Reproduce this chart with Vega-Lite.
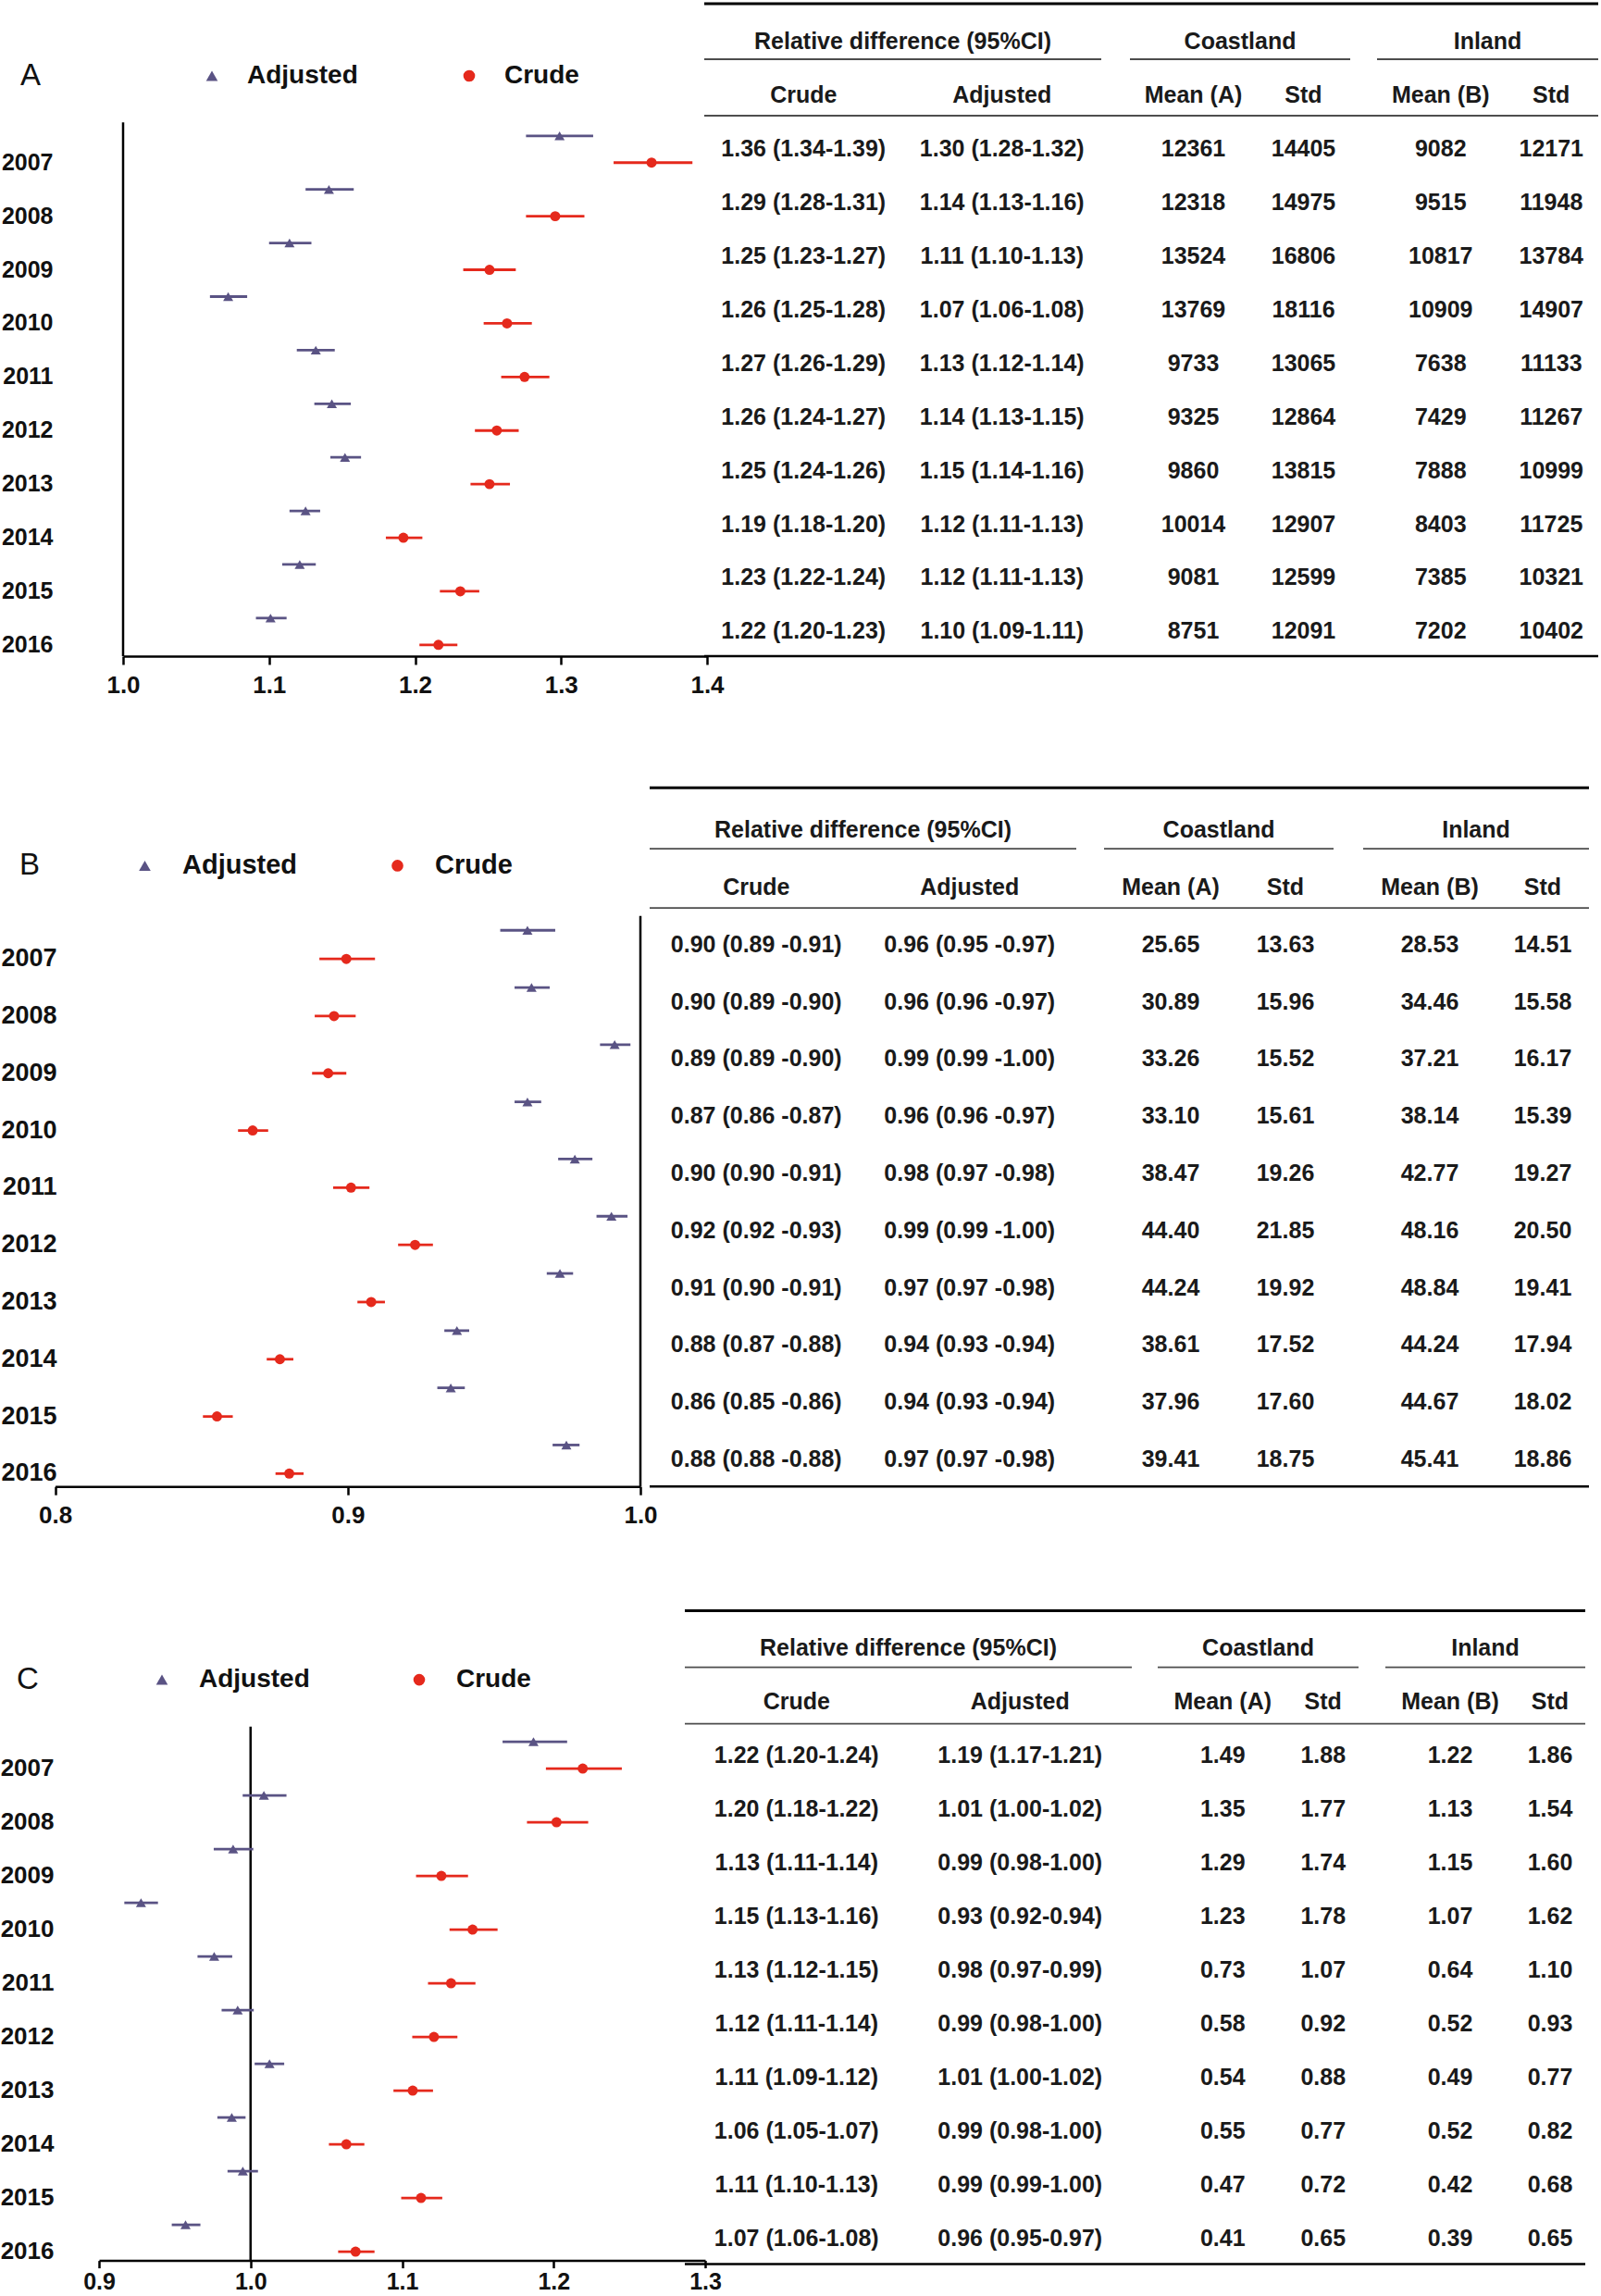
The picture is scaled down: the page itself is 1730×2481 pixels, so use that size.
{
"$schema": "https://vega.github.io/schema/vega-lite/v6.json",
"background": "white",
"padding": {"left": 0, "top": 1.5, "right": 0, "bottom": 0},
"config": {"view": {"stroke": null}, "font": "Liberation Sans", "text": {"font": "Liberation Sans"}, "axis": {"labelFont": "Liberation Sans"}, "legend": {"labelFont": "Liberation Sans"}},
"datasets": {
"fA": [
{"row":"2007","type":"Adjusted","est":1.299,"lo":1.276,"hi":1.322},
{"row":"2008","type":"Adjusted","est":1.141,"lo":1.125,"hi":1.158},
{"row":"2009","type":"Adjusted","est":1.114,"lo":1.100,"hi":1.129},
{"row":"2010","type":"Adjusted","est":1.072,"lo":1.0595,"hi":1.085},
{"row":"2011","type":"Adjusted","est":1.132,"lo":1.119,"hi":1.145},
{"row":"2012","type":"Adjusted","est":1.143,"lo":1.131,"hi":1.156},
{"row":"2013","type":"Adjusted","est":1.152,"lo":1.142,"hi":1.163},
{"row":"2014","type":"Adjusted","est":1.125,"lo":1.114,"hi":1.135},
{"row":"2015","type":"Adjusted","est":1.121,"lo":1.109,"hi":1.132},
{"row":"2016","type":"Adjusted","est":1.101,"lo":1.091,"hi":1.112},
{"row":"2007","type":"Crude","est":1.362,"lo":1.336,"hi":1.390},
{"row":"2008","type":"Crude","est":1.296,"lo":1.276,"hi":1.316},
{"row":"2009","type":"Crude","est":1.251,"lo":1.233,"hi":1.269},
{"row":"2010","type":"Crude","est":1.263,"lo":1.247,"hi":1.280},
{"row":"2011","type":"Crude","est":1.275,"lo":1.259,"hi":1.292},
{"row":"2012","type":"Crude","est":1.256,"lo":1.241,"hi":1.271},
{"row":"2013","type":"Crude","est":1.251,"lo":1.238,"hi":1.265},
{"row":"2014","type":"Crude","est":1.192,"lo":1.180,"hi":1.205},
{"row":"2015","type":"Crude","est":1.231,"lo":1.217,"hi":1.244},
{"row":"2016","type":"Crude","est":1.216,"lo":1.203,"hi":1.229}
],
"fB": [
{"row":"2007","type":"Adjusted","est":0.9614,"lo":0.9521,"hi":0.9709},
{"row":"2008","type":"Adjusted","est":0.9628,"lo":0.957,"hi":0.969},
{"row":"2009","type":"Adjusted","est":0.9912,"lo":0.9862,"hi":0.9966},
{"row":"2010","type":"Adjusted","est":0.9614,"lo":0.957,"hi":0.9661},
{"row":"2011","type":"Adjusted","est":0.9776,"lo":0.9719,"hi":0.9836},
{"row":"2012","type":"Adjusted","est":0.9901,"lo":0.985,"hi":0.9956},
{"row":"2013","type":"Adjusted","est":0.9725,"lo":0.968,"hi":0.977},
{"row":"2014","type":"Adjusted","est":0.9373,"lo":0.933,"hi":0.9415},
{"row":"2015","type":"Adjusted","est":0.9352,"lo":0.9306,"hi":0.94},
{"row":"2016","type":"Adjusted","est":0.9747,"lo":0.970,"hi":0.9792},
{"row":"2007","type":"Crude","est":0.8995,"lo":0.8903,"hi":0.9093},
{"row":"2008","type":"Crude","est":0.8953,"lo":0.8887,"hi":0.9027},
{"row":"2009","type":"Crude","est":0.8933,"lo":0.8878,"hi":0.8995},
{"row":"2010","type":"Crude","est":0.8675,"lo":0.8625,"hi":0.8728},
{"row":"2011","type":"Crude","est":0.9011,"lo":0.895,"hi":0.9074},
{"row":"2012","type":"Crude","est":0.923,"lo":0.9172,"hi":0.9291},
{"row":"2013","type":"Crude","est":0.908,"lo":0.9033,"hi":0.9127},
{"row":"2014","type":"Crude","est":0.8768,"lo":0.8723,"hi":0.8814},
{"row":"2015","type":"Crude","est":0.8553,"lo":0.8505,"hi":0.8607},
{"row":"2016","type":"Crude","est":0.88,"lo":0.8753,"hi":0.8849}
],
"fC": [
{"row":"2007","type":"Adjusted","est":1.1867,"lo":1.1663,"hi":1.2089},
{"row":"2008","type":"Adjusted","est":1.0088,"lo":0.9948,"hi":1.0237},
{"row":"2009","type":"Adjusted","est":0.9885,"lo":0.9757,"hi":1.0018},
{"row":"2010","type":"Adjusted","est":0.9277,"lo":0.9167,"hi":0.9389},
{"row":"2011","type":"Adjusted","est":0.976,"lo":0.965,"hi":0.9879},
{"row":"2012","type":"Adjusted","est":0.9915,"lo":0.9809,"hi":1.0021},
{"row":"2013","type":"Adjusted","est":1.0125,"lo":1.0027,"hi":1.0222},
{"row":"2014","type":"Adjusted","est":0.9876,"lo":0.9781,"hi":0.9967},
{"row":"2015","type":"Adjusted","est":0.9949,"lo":0.9848,"hi":1.0049},
{"row":"2016","type":"Adjusted","est":0.9571,"lo":0.948,"hi":0.9669},
{"row":"2007","type":"Crude","est":1.2192,"lo":1.1949,"hi":1.245},
{"row":"2008","type":"Crude","est":1.2019,"lo":1.1824,"hi":1.2228},
{"row":"2009","type":"Crude","est":1.1259,"lo":1.1092,"hi":1.1435},
{"row":"2010","type":"Crude","est":1.1465,"lo":1.1313,"hi":1.163},
{"row":"2011","type":"Crude","est":1.1323,"lo":1.1171,"hi":1.1484},
{"row":"2012","type":"Crude","est":1.121,"lo":1.1067,"hi":1.1365},
{"row":"2013","type":"Crude","est":1.107,"lo":1.0943,"hi":1.1204},
{"row":"2014","type":"Crude","est":1.0632,"lo":1.0517,"hi":1.0751},
{"row":"2015","type":"Crude","est":1.1125,"lo":1.0994,"hi":1.1265},
{"row":"2016","type":"Crude","est":1.0693,"lo":1.0578,"hi":1.0818}
],
"tA": [
{"row":"s","Crude":"Crude","Adjusted":"Adjusted","MeanA":"Mean (A)","StdA":"Std","MeanB":"Mean (B)","StdB":"Std"},
{"row":"2007","Crude":"1.36 (1.34-1.39)","Adjusted":"1.30 (1.28-1.32)","MeanA":"12361","StdA":"14405","MeanB":"9082","StdB":"12171"},
{"row":"2008","Crude":"1.29 (1.28-1.31)","Adjusted":"1.14 (1.13-1.16)","MeanA":"12318","StdA":"14975","MeanB":"9515","StdB":"11948"},
{"row":"2009","Crude":"1.25 (1.23-1.27)","Adjusted":"1.11 (1.10-1.13)","MeanA":"13524","StdA":"16806","MeanB":"10817","StdB":"13784"},
{"row":"2010","Crude":"1.26 (1.25-1.28)","Adjusted":"1.07 (1.06-1.08)","MeanA":"13769","StdA":"18116","MeanB":"10909","StdB":"14907"},
{"row":"2011","Crude":"1.27 (1.26-1.29)","Adjusted":"1.13 (1.12-1.14)","MeanA":"9733","StdA":"13065","MeanB":"7638","StdB":"11133"},
{"row":"2012","Crude":"1.26 (1.24-1.27)","Adjusted":"1.14 (1.13-1.15)","MeanA":"9325","StdA":"12864","MeanB":"7429","StdB":"11267"},
{"row":"2013","Crude":"1.25 (1.24-1.26)","Adjusted":"1.15 (1.14-1.16)","MeanA":"9860","StdA":"13815","MeanB":"7888","StdB":"10999"},
{"row":"2014","Crude":"1.19 (1.18-1.20)","Adjusted":"1.12 (1.11-1.13)","MeanA":"10014","StdA":"12907","MeanB":"8403","StdB":"11725"},
{"row":"2015","Crude":"1.23 (1.22-1.24)","Adjusted":"1.12 (1.11-1.13)","MeanA":"9081","StdA":"12599","MeanB":"7385","StdB":"10321"},
{"row":"2016","Crude":"1.22 (1.20-1.23)","Adjusted":"1.10 (1.09-1.11)","MeanA":"8751","StdA":"12091","MeanB":"7202","StdB":"10402"}
],
"tB": [
{"row":"s","Crude":"Crude","Adjusted":"Adjusted","MeanA":"Mean (A)","StdA":"Std","MeanB":"Mean (B)","StdB":"Std"},
{"row":"2007","Crude":"0.90 (0.89 -0.91)","Adjusted":"0.96 (0.95 -0.97)","MeanA":"25.65","StdA":"13.63","MeanB":"28.53","StdB":"14.51"},
{"row":"2008","Crude":"0.90 (0.89 -0.90)","Adjusted":"0.96 (0.96 -0.97)","MeanA":"30.89","StdA":"15.96","MeanB":"34.46","StdB":"15.58"},
{"row":"2009","Crude":"0.89 (0.89 -0.90)","Adjusted":"0.99 (0.99 -1.00)","MeanA":"33.26","StdA":"15.52","MeanB":"37.21","StdB":"16.17"},
{"row":"2010","Crude":"0.87 (0.86 -0.87)","Adjusted":"0.96 (0.96 -0.97)","MeanA":"33.10","StdA":"15.61","MeanB":"38.14","StdB":"15.39"},
{"row":"2011","Crude":"0.90 (0.90 -0.91)","Adjusted":"0.98 (0.97 -0.98)","MeanA":"38.47","StdA":"19.26","MeanB":"42.77","StdB":"19.27"},
{"row":"2012","Crude":"0.92 (0.92 -0.93)","Adjusted":"0.99 (0.99 -1.00)","MeanA":"44.40","StdA":"21.85","MeanB":"48.16","StdB":"20.50"},
{"row":"2013","Crude":"0.91 (0.90 -0.91)","Adjusted":"0.97 (0.97 -0.98)","MeanA":"44.24","StdA":"19.92","MeanB":"48.84","StdB":"19.41"},
{"row":"2014","Crude":"0.88 (0.87 -0.88)","Adjusted":"0.94 (0.93 -0.94)","MeanA":"38.61","StdA":"17.52","MeanB":"44.24","StdB":"17.94"},
{"row":"2015","Crude":"0.86 (0.85 -0.86)","Adjusted":"0.94 (0.93 -0.94)","MeanA":"37.96","StdA":"17.60","MeanB":"44.67","StdB":"18.02"},
{"row":"2016","Crude":"0.88 (0.88 -0.88)","Adjusted":"0.97 (0.97 -0.98)","MeanA":"39.41","StdA":"18.75","MeanB":"45.41","StdB":"18.86"}
],
"tC": [
{"row":"s","Crude":"Crude","Adjusted":"Adjusted","MeanA":"Mean (A)","StdA":"Std","MeanB":"Mean (B)","StdB":"Std"},
{"row":"2007","Crude":"1.22 (1.20-1.24)","Adjusted":"1.19 (1.17-1.21)","MeanA":"1.49","StdA":"1.88","MeanB":"1.22","StdB":"1.86"},
{"row":"2008","Crude":"1.20 (1.18-1.22)","Adjusted":"1.01 (1.00-1.02)","MeanA":"1.35","StdA":"1.77","MeanB":"1.13","StdB":"1.54"},
{"row":"2009","Crude":"1.13 (1.11-1.14)","Adjusted":"0.99 (0.98-1.00)","MeanA":"1.29","StdA":"1.74","MeanB":"1.15","StdB":"1.60"},
{"row":"2010","Crude":"1.15 (1.13-1.16)","Adjusted":"0.93 (0.92-0.94)","MeanA":"1.23","StdA":"1.78","MeanB":"1.07","StdB":"1.62"},
{"row":"2011","Crude":"1.13 (1.12-1.15)","Adjusted":"0.98 (0.97-0.99)","MeanA":"0.73","StdA":"1.07","MeanB":"0.64","StdB":"1.10"},
{"row":"2012","Crude":"1.12 (1.11-1.14)","Adjusted":"0.99 (0.98-1.00)","MeanA":"0.58","StdA":"0.92","MeanB":"0.52","StdB":"0.93"},
{"row":"2013","Crude":"1.11 (1.09-1.12)","Adjusted":"1.01 (1.00-1.02)","MeanA":"0.54","StdA":"0.88","MeanB":"0.49","StdB":"0.77"},
{"row":"2014","Crude":"1.06 (1.05-1.07)","Adjusted":"0.99 (0.98-1.00)","MeanA":"0.55","StdA":"0.77","MeanB":"0.52","StdB":"0.82"},
{"row":"2015","Crude":"1.11 (1.10-1.13)","Adjusted":"0.99 (0.99-1.00)","MeanA":"0.47","StdA":"0.72","MeanB":"0.42","StdB":"0.68"},
{"row":"2016","Crude":"1.07 (1.06-1.08)","Adjusted":"0.96 (0.95-0.97)","MeanA":"0.41","StdA":"0.65","MeanB":"0.39","StdB":"0.65"}
]
},
"bounds": "flush",
"spacing": 154.7,
"resolve": {"scale": {"color": "independent", "shape": "independent"}, "legend": {"color": "independent", "shape": "independent"}},
"vconcat": [
{
"width": 1664, "height": 694.8,
"encoding": {"y": {"field": "row", "type": "nominal",
  "scale": {"domain": ["g","s","2007","2008","2009","2010","2011","2012","2013","2014","2015","2016"], "paddingInner": 0, "paddingOuter": 0},
  "axis": {"values": ["2007","2008","2009","2010","2011","2012","2013","2014","2015","2016"], "labelOffset": 14.5, "domain": false, "ticks": false, "tickSize": 0, "labelPadding": 8, "labelFontSize": 25, "labelFontWeight": "bold", "labelColor": "#111111", "title": null, "grid": false}}},
"layer": [
 {"data": {"name": "fA"}, "layer": [
  {"data": {"values": [{"lab": "A"}]}, "mark": {"type": "text", "align": "left", "baseline": "middle", "fontSize": 33, "color": "#111111"},
   "encoding": {"x": {"datum": 0.9296, "type": "quantitative"}, "y": {"datum": "s", "type": "nominal", "bandPosition": 0.13}, "text": {"field": "lab"}}},
  {"data": {"values": [{}]}, "mark": {"type": "rule", "strokeWidth": 2.5, "color": "#000000"},
   "encoding": {"x": {"datum": 1, "type": "quantitative"}, "y": {"datum": "2007", "type": "nominal", "bandPosition": 0}, "y2": {"datum": "2016", "bandPosition": 0.96}}},
  {"transform": [{"filter": "datum.type == 'Adjusted'"}], "mark": {"type": "rule", "strokeWidth": 2.8, "color": "#5a5384"},
   "encoding": {"x": {"field": "lo", "type": "quantitative"}, "x2": {"field": "hi"}, "y": {"field": "row", "type": "nominal", "bandPosition": 0.25}}},
  {"transform": [{"filter": "datum.type == 'Crude'"}], "mark": {"type": "rule", "strokeWidth": 2.8, "color": "#e5291c"},
   "encoding": {"x": {"field": "lo", "type": "quantitative"}, "x2": {"field": "hi"}, "y": {"field": "row", "type": "nominal", "bandPosition": 0.75}}},
  {"transform": [{"filter": "datum.type == 'Adjusted'"}], "mark": {"type": "point", "filled": true, "size": 120, "opacity": 1},
   "encoding": {"x": {"field": "est", "type": "quantitative", "scale": {"domain": [1.0, 1.4], "range": [68, 699], "nice": false, "zero": false},
     "axis": {"values": [1.0,1.1,1.2,1.3,1.4], "format": ".1f", "orient": "bottom", "offset": -2.3, "title": null, "grid": false, "domainColor": "#000000", "domainWidth": 2.5, "tickColor": "#000000", "tickWidth": 2.5, "tickSize": 9, "labelPadding": 9, "labelFontSize": 26, "labelFontWeight": "bold", "labelColor": "#111111", "labelFlush": false, "labelOverlap": false}},
    "y": {"field": "row", "type": "nominal", "bandPosition": 0.25},
    "color": {"field": "type", "type": "nominal", "scale": {"domain": ["Adjusted","Crude"], "range": ["#5a5384","#e5291c"]},
      "legend": {"orient": "none", "legendX": 150, "legendY": 51.5, "direction": "horizontal", "title": null, "labelFontSize": 28, "labelFontWeight": "bold", "labelColor": "#111111", "symbolSize": 160, "labelOffset": 24, "columnPadding": 106}},
    "shape": {"field": "type", "type": "nominal", "scale": {"domain": ["Adjusted","Crude"], "range": ["triangle-up","circle"]},
      "legend": {"orient": "none", "legendX": 150, "legendY": 51.5, "direction": "horizontal", "title": null, "labelFontSize": 28, "labelFontWeight": "bold", "labelColor": "#111111", "symbolSize": 160, "labelOffset": 24, "columnPadding": 106}}}},
  {"transform": [{"filter": "datum.type == 'Crude'"}], "mark": {"type": "point", "filled": true, "size": 120, "opacity": 1},
   "encoding": {"x": {"field": "est", "type": "quantitative"},
    "y": {"field": "row", "type": "nominal", "bandPosition": 0.75},
    "color": {"field": "type", "type": "nominal"},
    "shape": {"field": "type", "type": "nominal"}}}
 ]},
 {"data": {"values": [{}]}, "layer": [
  {"mark": {"type": "rule", "strokeWidth": 3, "color": "#000000"}, "encoding": {"x": {"datum": 0, "type": "quantitative", "scale": {"domain": [0, 1], "range": [696, 1662], "nice": false, "zero": false}, "axis": null}, "x2": {"datum": 1}, "y": {"datum": "g", "type": "nominal", "bandPosition": -0.216}}},
  {"mark": {"type": "rule", "strokeWidth": 1.8, "color": "#4d4d4d"}, "encoding": {"x": {"datum": 0, "type": "quantitative", "axis": null}, "x2": {"datum": 1}, "y": {"datum": "s", "type": "nominal", "bandPosition": 0.874}}},
  {"mark": {"type": "rule", "strokeWidth": 2.5, "color": "#000000"}, "encoding": {"x": {"datum": 0, "type": "quantitative", "axis": null}, "x2": {"datum": 1}, "y": {"datum": "2016", "type": "nominal", "bandPosition": 0.96}}}
 ]},
 {"data": {"values": [{"h": "Relative difference (95%CI)"}]}, "layer": [
  {"mark": {"type": "rule", "strokeWidth": 1.8, "color": "#4d4d4d"}, "encoding": {"x": {"datum": 0, "type": "quantitative", "scale": {"domain": [0, 1], "range": [696, 1125], "nice": false, "zero": false}, "axis": null}, "x2": {"datum": 1}, "y": {"datum": "g", "type": "nominal", "bandPosition": 0.82}}},
  {"mark": {"type": "text", "fontSize": 25, "fontWeight": "bold", "color": "#1a1a1a"}, "encoding": {"x": {"datum": 0.5, "type": "quantitative", "axis": null}, "y": {"datum": "g", "type": "nominal"}, "text": {"field": "h"}}}
 ]},
 {"data": {"values": [{"h": "Coastland"}]}, "layer": [
  {"mark": {"type": "rule", "strokeWidth": 1.8, "color": "#4d4d4d"}, "encoding": {"x": {"datum": 0, "type": "quantitative", "scale": {"domain": [0, 1], "range": [1156, 1394], "nice": false, "zero": false}, "axis": null}, "x2": {"datum": 1}, "y": {"datum": "g", "type": "nominal", "bandPosition": 0.82}}},
  {"mark": {"type": "text", "fontSize": 25, "fontWeight": "bold", "color": "#1a1a1a"}, "encoding": {"x": {"datum": 0.5, "type": "quantitative", "axis": null}, "y": {"datum": "g", "type": "nominal"}, "text": {"field": "h"}}}
 ]},
 {"data": {"values": [{"h": "Inland"}]}, "layer": [
  {"mark": {"type": "rule", "strokeWidth": 1.8, "color": "#4d4d4d"}, "encoding": {"x": {"datum": 0, "type": "quantitative", "scale": {"domain": [0, 1], "range": [1423, 1662], "nice": false, "zero": false}, "axis": null}, "x2": {"datum": 1}, "y": {"datum": "g", "type": "nominal", "bandPosition": 0.82}}},
  {"mark": {"type": "text", "fontSize": 25, "fontWeight": "bold", "color": "#1a1a1a"}, "encoding": {"x": {"datum": 0.5, "type": "quantitative", "axis": null}, "y": {"datum": "g", "type": "nominal"}, "text": {"field": "h"}}}
 ]},
 {"data": {"name": "tA"}, "transform": [{"fold": ["Crude","Adjusted"], "as": ["col","txt"]}],
  "mark": {"type": "text", "fontSize": 25, "fontWeight": "bold", "color": "#1a1a1a"},
  "encoding": {"x": {"field": "col", "type": "nominal", "scale": {"domain": ["Crude","Adjusted"], "range": [696, 1125], "paddingInner": 0, "paddingOuter": 0}, "axis": null}, "text": {"field": "txt"}}},
 {"data": {"name": "tA"}, "transform": [{"fold": ["MeanA","StdA"], "as": ["col","txt"]}],
  "mark": {"type": "text", "fontSize": 25, "fontWeight": "bold", "color": "#1a1a1a", "dx": 9},
  "encoding": {"x": {"field": "col", "type": "nominal", "scale": {"domain": ["MeanA","StdA"], "range": [1156, 1394], "paddingInner": 0, "paddingOuter": 0}, "axis": null}, "text": {"field": "txt"}}},
 {"data": {"name": "tA"}, "transform": [{"fold": ["MeanB","StdB"], "as": ["col","txt"]}],
  "mark": {"type": "text", "fontSize": 25, "fontWeight": "bold", "color": "#1a1a1a", "dx": 9},
  "encoding": {"x": {"field": "col", "type": "nominal", "scale": {"domain": ["MeanB","StdB"], "range": [1423, 1662], "paddingInner": 0, "paddingOuter": 0}, "axis": null}, "text": {"field": "txt"}}}
],
"resolve": {"scale": {"x": "independent"}, "axis": {"x": "independent"}}
},
{
"bounds": "flush",
"spacing": 143.4,
"resolve": {"scale": {"color": "independent", "shape": "independent"}, "legend": {"color": "independent", "shape": "independent"}},
"vconcat": [
{
"width": 1664, "height": 741.6,
"encoding": {"y": {"field": "row", "type": "nominal",
  "scale": {"domain": ["g","s","2007","2008","2009","2010","2011","2012","2013","2014","2015","2016"], "paddingInner": 0, "paddingOuter": 0},
  "axis": {"values": ["2007","2008","2009","2010","2011","2012","2013","2014","2015","2016"], "labelOffset": 15.45, "domain": false, "ticks": false, "tickSize": 0, "labelPadding": 4, "labelFontSize": 27, "labelFontWeight": "bold", "labelColor": "#111111", "title": null, "grid": false}}},
"layer": [
 {"data": {"name": "fB"}, "layer": [
  {"data": {"values": [{"lab": "B"}]}, "mark": {"type": "text", "align": "left", "baseline": "middle", "fontSize": 33, "color": "#111111"},
   "encoding": {"x": {"datum": 0.7878, "type": "quantitative"}, "y": {"datum": "s", "type": "nominal", "bandPosition": 0.108}, "text": {"field": "lab"}}},
  {"data": {"values": [{}]}, "mark": {"type": "rule", "strokeWidth": 2.5, "color": "#000000"},
   "encoding": {"x": {"datum": 1, "type": "quantitative"}, "y": {"datum": "2007", "type": "nominal", "bandPosition": 0}, "y2": {"datum": "2016", "bandPosition": 0.974}}},
  {"transform": [{"filter": "datum.type == 'Adjusted'"}], "mark": {"type": "rule", "strokeWidth": 2.8, "color": "#5a5384"},
   "encoding": {"x": {"field": "lo", "type": "quantitative"}, "x2": {"field": "hi"}, "y": {"field": "row", "type": "nominal", "bandPosition": 0.25}}},
  {"transform": [{"filter": "datum.type == 'Crude'"}], "mark": {"type": "rule", "strokeWidth": 2.8, "color": "#e5291c"},
   "encoding": {"x": {"field": "lo", "type": "quantitative"}, "x2": {"field": "hi"}, "y": {"field": "row", "type": "nominal", "bandPosition": 0.75}}},
  {"transform": [{"filter": "datum.type == 'Adjusted'"}], "mark": {"type": "point", "filled": true, "size": 120, "opacity": 1},
   "encoding": {"x": {"field": "est", "type": "quantitative", "scale": {"domain": [0.8, 1.0], "range": [-5.4, 627], "nice": false, "zero": false},
     "axis": {"values": [0.8,0.9,1.0], "format": ".1f", "orient": "bottom", "offset": -1.6, "title": null, "grid": false, "domainColor": "#000000", "domainWidth": 2.5, "tickColor": "#000000", "tickWidth": 2.5, "tickSize": 9, "labelPadding": 9, "labelFontSize": 26, "labelFontWeight": "bold", "labelColor": "#111111", "labelFlush": false, "labelOverlap": false}},
    "y": {"field": "row", "type": "nominal", "bandPosition": 0.25},
    "color": {"field": "type", "type": "nominal", "scale": {"domain": ["Adjusted","Crude"], "range": ["#5a5384","#e5291c"]},
      "legend": {"orient": "none", "legendX": 77, "legendY": 54.5, "direction": "horizontal", "title": null, "labelFontSize": 29, "labelFontWeight": "bold", "labelColor": "#111111", "symbolSize": 160, "labelOffset": 26, "columnPadding": 93}},
    "shape": {"field": "type", "type": "nominal", "scale": {"domain": ["Adjusted","Crude"], "range": ["triangle-up","circle"]},
      "legend": {"orient": "none", "legendX": 77, "legendY": 54.5, "direction": "horizontal", "title": null, "labelFontSize": 29, "labelFontWeight": "bold", "labelColor": "#111111", "symbolSize": 160, "labelOffset": 26, "columnPadding": 93}}}},
  {"transform": [{"filter": "datum.type == 'Crude'"}], "mark": {"type": "point", "filled": true, "size": 120, "opacity": 1},
   "encoding": {"x": {"field": "est", "type": "quantitative"},
    "y": {"field": "row", "type": "nominal", "bandPosition": 0.75},
    "color": {"field": "type", "type": "nominal"},
    "shape": {"field": "type", "type": "nominal"}}}
 ]},
 {"data": {"values": [{}]}, "layer": [
  {"mark": {"type": "rule", "strokeWidth": 3, "color": "#000000"}, "encoding": {"x": {"datum": 0, "type": "quantitative", "scale": {"domain": [0, 1], "range": [637, 1652], "nice": false, "zero": false}, "axis": null}, "x2": {"datum": 1}, "y": {"datum": "g", "type": "nominal", "bandPosition": -0.243}}},
  {"mark": {"type": "rule", "strokeWidth": 1.8, "color": "#4d4d4d"}, "encoding": {"x": {"datum": 0, "type": "quantitative", "axis": null}, "x2": {"datum": 1}, "y": {"datum": "s", "type": "nominal", "bandPosition": 0.861}}},
  {"mark": {"type": "rule", "strokeWidth": 2.5, "color": "#000000"}, "encoding": {"x": {"datum": 0, "type": "quantitative", "axis": null}, "x2": {"datum": 1}, "y": {"datum": "2016", "type": "nominal", "bandPosition": 0.974}}}
 ]},
 {"data": {"values": [{"h": "Relative difference (95%CI)"}]}, "layer": [
  {"mark": {"type": "rule", "strokeWidth": 1.8, "color": "#4d4d4d"}, "encoding": {"x": {"datum": 0, "type": "quantitative", "scale": {"domain": [0, 1], "range": [637, 1098], "nice": false, "zero": false}, "axis": null}, "x2": {"datum": 1}, "y": {"datum": "g", "type": "nominal", "bandPosition": 0.825}}},
  {"mark": {"type": "text", "fontSize": 25, "fontWeight": "bold", "color": "#1a1a1a"}, "encoding": {"x": {"datum": 0.5, "type": "quantitative", "axis": null}, "y": {"datum": "g", "type": "nominal"}, "text": {"field": "h"}}}
 ]},
 {"data": {"values": [{"h": "Coastland"}]}, "layer": [
  {"mark": {"type": "rule", "strokeWidth": 1.8, "color": "#4d4d4d"}, "encoding": {"x": {"datum": 0, "type": "quantitative", "scale": {"domain": [0, 1], "range": [1128, 1376], "nice": false, "zero": false}, "axis": null}, "x2": {"datum": 1}, "y": {"datum": "g", "type": "nominal", "bandPosition": 0.825}}},
  {"mark": {"type": "text", "fontSize": 25, "fontWeight": "bold", "color": "#1a1a1a"}, "encoding": {"x": {"datum": 0.5, "type": "quantitative", "axis": null}, "y": {"datum": "g", "type": "nominal"}, "text": {"field": "h"}}}
 ]},
 {"data": {"values": [{"h": "Inland"}]}, "layer": [
  {"mark": {"type": "rule", "strokeWidth": 1.8, "color": "#4d4d4d"}, "encoding": {"x": {"datum": 0, "type": "quantitative", "scale": {"domain": [0, 1], "range": [1408, 1652], "nice": false, "zero": false}, "axis": null}, "x2": {"datum": 1}, "y": {"datum": "g", "type": "nominal", "bandPosition": 0.825}}},
  {"mark": {"type": "text", "fontSize": 25, "fontWeight": "bold", "color": "#1a1a1a"}, "encoding": {"x": {"datum": 0.5, "type": "quantitative", "axis": null}, "y": {"datum": "g", "type": "nominal"}, "text": {"field": "h"}}}
 ]},
 {"data": {"name": "tB"}, "transform": [{"fold": ["Crude","Adjusted"], "as": ["col","txt"]}],
  "mark": {"type": "text", "fontSize": 25, "fontWeight": "bold", "color": "#1a1a1a"},
  "encoding": {"x": {"field": "col", "type": "nominal", "scale": {"domain": ["Crude","Adjusted"], "range": [637, 1098], "paddingInner": 0, "paddingOuter": 0}, "axis": null}, "text": {"field": "txt"}}},
 {"data": {"name": "tB"}, "transform": [{"fold": ["MeanA","StdA"], "as": ["col","txt"]}],
  "mark": {"type": "text", "fontSize": 25, "fontWeight": "bold", "color": "#1a1a1a", "dx": 10},
  "encoding": {"x": {"field": "col", "type": "nominal", "scale": {"domain": ["MeanA","StdA"], "range": [1128, 1376], "paddingInner": 0, "paddingOuter": 0}, "axis": null}, "text": {"field": "txt"}}},
 {"data": {"name": "tB"}, "transform": [{"fold": ["MeanB","StdB"], "as": ["col","txt"]}],
  "mark": {"type": "text", "fontSize": 25, "fontWeight": "bold", "color": "#1a1a1a", "dx": 11},
  "encoding": {"x": {"field": "col", "type": "nominal", "scale": {"domain": ["MeanB","StdB"], "range": [1408, 1652], "paddingInner": 0, "paddingOuter": 0}, "axis": null}, "text": {"field": "txt"}}}
],
"resolve": {"scale": {"x": "independent"}, "axis": {"x": "independent"}}
},
{
"width": 1664, "height": 696,
"encoding": {"y": {"field": "row", "type": "nominal",
  "scale": {"domain": ["g","s","2007","2008","2009","2010","2011","2012","2013","2014","2015","2016"], "paddingInner": 0, "paddingOuter": 0},
  "axis": {"values": ["2007","2008","2009","2010","2011","2012","2013","2014","2015","2016"], "labelOffset": 14.5, "domain": false, "ticks": false, "tickSize": 0, "labelPadding": 7, "labelFontSize": 26, "labelFontWeight": "bold", "labelColor": "#111111", "title": null, "grid": false}}},
"layer": [
 {"data": {"name": "fC"}, "layer": [
  {"data": {"values": [{"lab": "C"}]}, "mark": {"type": "text", "align": "left", "baseline": "middle", "fontSize": 33, "color": "#111111"},
   "encoding": {"x": {"datum": 0.8456, "type": "quantitative"}, "y": {"datum": "s", "type": "nominal", "bandPosition": 0.095}, "text": {"field": "lab"}}},
  {"data": {"values": [{}]}, "mark": {"type": "rule", "strokeWidth": 2.5, "color": "#000000"},
   "encoding": {"x": {"datum": 1, "type": "quantitative"}, "y": {"datum": "2007", "type": "nominal", "bandPosition": -0.03}, "y2": {"datum": "2016", "bandPosition": 0.914}}},
  {"transform": [{"filter": "datum.type == 'Adjusted'"}], "mark": {"type": "rule", "strokeWidth": 2.8, "color": "#5a5384"},
   "encoding": {"x": {"field": "lo", "type": "quantitative"}, "x2": {"field": "hi"}, "y": {"field": "row", "type": "nominal", "bandPosition": 0.25}}},
  {"transform": [{"filter": "datum.type == 'Crude'"}], "mark": {"type": "rule", "strokeWidth": 2.8, "color": "#e5291c"},
   "encoding": {"x": {"field": "lo", "type": "quantitative"}, "x2": {"field": "hi"}, "y": {"field": "row", "type": "nominal", "bandPosition": 0.75}}},
  {"transform": [{"filter": "datum.type == 'Adjusted'"}], "mark": {"type": "point", "filled": true, "size": 120, "opacity": 1},
   "encoding": {"x": {"field": "est", "type": "quantitative", "scale": {"domain": [0.9, 1.3], "range": [42, 697], "nice": false, "zero": false},
     "axis": {"values": [0.9,1.0,1.1,1.2,1.3], "format": ".1f", "orient": "bottom", "offset": -5, "title": null, "grid": false, "domainColor": "#000000", "domainWidth": 2.5, "tickColor": "#000000", "tickWidth": 2.5, "tickSize": 8, "labelPadding": 3, "labelFontSize": 25, "labelFontWeight": "bold", "labelColor": "#111111", "labelFlush": false, "labelOverlap": false}},
    "y": {"field": "row", "type": "nominal", "bandPosition": 0.25},
    "color": {"field": "type", "type": "nominal", "scale": {"domain": ["Adjusted","Crude"], "range": ["#5a5384","#e5291c"]},
      "legend": {"orient": "none", "legendX": 96, "legendY": 49.5, "direction": "horizontal", "title": null, "labelFontSize": 28, "labelFontWeight": "bold", "labelColor": "#111111", "symbolSize": 160, "labelOffset": 26, "columnPadding": 104}},
    "shape": {"field": "type", "type": "nominal", "scale": {"domain": ["Adjusted","Crude"], "range": ["triangle-up","circle"]},
      "legend": {"orient": "none", "legendX": 96, "legendY": 49.5, "direction": "horizontal", "title": null, "labelFontSize": 28, "labelFontWeight": "bold", "labelColor": "#111111", "symbolSize": 160, "labelOffset": 26, "columnPadding": 104}}}},
  {"transform": [{"filter": "datum.type == 'Crude'"}], "mark": {"type": "point", "filled": true, "size": 120, "opacity": 1},
   "encoding": {"x": {"field": "est", "type": "quantitative"},
    "y": {"field": "row", "type": "nominal", "bandPosition": 0.75},
    "color": {"field": "type", "type": "nominal"},
    "shape": {"field": "type", "type": "nominal"}}}
 ]},
 {"data": {"values": [{}]}, "layer": [
  {"mark": {"type": "rule", "strokeWidth": 3, "color": "#000000"}, "encoding": {"x": {"datum": 0, "type": "quantitative", "scale": {"domain": [0, 1], "range": [675, 1648], "nice": false, "zero": false}, "axis": null}, "x2": {"datum": 1}, "y": {"datum": "g", "type": "nominal", "bandPosition": -0.19}}},
  {"mark": {"type": "rule", "strokeWidth": 1.8, "color": "#4d4d4d"}, "encoding": {"x": {"datum": 0, "type": "quantitative", "axis": null}, "x2": {"datum": 1}, "y": {"datum": "s", "type": "nominal", "bandPosition": 0.914}}},
  {"mark": {"type": "rule", "strokeWidth": 2.5, "color": "#000000"}, "encoding": {"x": {"datum": 0, "type": "quantitative", "axis": null}, "x2": {"datum": 1}, "y": {"datum": "2016", "type": "nominal", "bandPosition": 0.983}}}
 ]},
 {"data": {"values": [{"h": "Relative difference (95%CI)"}]}, "layer": [
  {"mark": {"type": "rule", "strokeWidth": 1.8, "color": "#4d4d4d"}, "encoding": {"x": {"datum": 0, "type": "quantitative", "scale": {"domain": [0, 1], "range": [675, 1158], "nice": false, "zero": false}, "axis": null}, "x2": {"datum": 1}, "y": {"datum": "g", "type": "nominal", "bandPosition": 0.862}}},
  {"mark": {"type": "text", "fontSize": 25, "fontWeight": "bold", "color": "#1a1a1a"}, "encoding": {"x": {"datum": 0.5, "type": "quantitative", "axis": null}, "y": {"datum": "g", "type": "nominal"}, "text": {"field": "h"}}}
 ]},
 {"data": {"values": [{"h": "Coastland"}]}, "layer": [
  {"mark": {"type": "rule", "strokeWidth": 1.8, "color": "#4d4d4d"}, "encoding": {"x": {"datum": 0, "type": "quantitative", "scale": {"domain": [0, 1], "range": [1186, 1403], "nice": false, "zero": false}, "axis": null}, "x2": {"datum": 1}, "y": {"datum": "g", "type": "nominal", "bandPosition": 0.862}}},
  {"mark": {"type": "text", "fontSize": 25, "fontWeight": "bold", "color": "#1a1a1a"}, "encoding": {"x": {"datum": 0.5, "type": "quantitative", "axis": null}, "y": {"datum": "g", "type": "nominal"}, "text": {"field": "h"}}}
 ]},
 {"data": {"values": [{"h": "Inland"}]}, "layer": [
  {"mark": {"type": "rule", "strokeWidth": 1.8, "color": "#4d4d4d"}, "encoding": {"x": {"datum": 0, "type": "quantitative", "scale": {"domain": [0, 1], "range": [1432, 1648], "nice": false, "zero": false}, "axis": null}, "x2": {"datum": 1}, "y": {"datum": "g", "type": "nominal", "bandPosition": 0.862}}},
  {"mark": {"type": "text", "fontSize": 25, "fontWeight": "bold", "color": "#1a1a1a"}, "encoding": {"x": {"datum": 0.5, "type": "quantitative", "axis": null}, "y": {"datum": "g", "type": "nominal"}, "text": {"field": "h"}}}
 ]},
 {"data": {"name": "tC"}, "transform": [{"fold": ["Crude","Adjusted"], "as": ["col","txt"]}],
  "mark": {"type": "text", "fontSize": 25, "fontWeight": "bold", "color": "#1a1a1a"},
  "encoding": {"x": {"field": "col", "type": "nominal", "scale": {"domain": ["Crude","Adjusted"], "range": [675, 1158], "paddingInner": 0, "paddingOuter": 0}, "axis": null}, "text": {"field": "txt"}}},
 {"data": {"name": "tC"}, "transform": [{"fold": ["MeanA","StdA"], "as": ["col","txt"]}],
  "mark": {"type": "text", "fontSize": 25, "fontWeight": "bold", "color": "#1a1a1a", "dx": 16},
  "encoding": {"x": {"field": "col", "type": "nominal", "scale": {"domain": ["MeanA","StdA"], "range": [1186, 1403], "paddingInner": 0, "paddingOuter": 0}, "axis": null}, "text": {"field": "txt"}}},
 {"data": {"name": "tC"}, "transform": [{"fold": ["MeanB","StdB"], "as": ["col","txt"]}],
  "mark": {"type": "text", "fontSize": 25, "fontWeight": "bold", "color": "#1a1a1a", "dx": 16},
  "encoding": {"x": {"field": "col", "type": "nominal", "scale": {"domain": ["MeanB","StdB"], "range": [1432, 1648], "paddingInner": 0, "paddingOuter": 0}, "axis": null}, "text": {"field": "txt"}}}
],
"resolve": {"scale": {"x": "independent"}, "axis": {"x": "independent"}}
}
]
}
]
}
